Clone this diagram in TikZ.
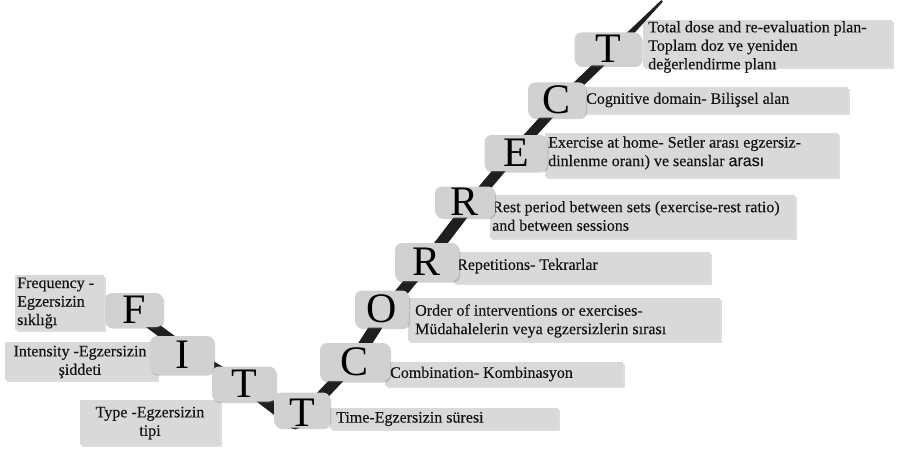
\documentclass[tikz,border=0pt]{standalone}
\usepackage{fontspec}
\setmainfont{Liberation Serif}
\newfontfamily\lblfont[FakeBold=0.3]{Liberation Serif}
\newfontfamily\arialfont[FakeBold=0.3]{Liberation Sans}
\usetikzlibrary{shadows,calc}
\begin{document}
\begin{tikzpicture}[x=1pt,y=-1pt,
  tbox/.style={fill=black!15, draw=none, inner sep=0pt, anchor=north west,
     drop shadow={shadow xshift=2pt, shadow yshift=-2pt, opacity=0.22, fill=black!60}},
  lbox/.style={fill=black!18, draw=none, rounded corners=7pt, inner sep=0pt,
     font=\fontsize{42}{42}\selectfont,
     drop shadow={shadow xshift=1pt, shadow yshift=-1.5pt, opacity=0.3, fill=black!60}},
  lbl/.style={font=\lblfont\fontsize{16}{18.5}\selectfont, inner sep=0pt, align=left, anchor=west, text=black!92},
  lblc/.style={lbl, align=center, anchor=center},
  band/.style={draw=black!88, line cap=round, line join=round},
]
\useasboundingbox (0,0) rectangle (897,452);

% text boxes
\node[tbox, minimum width=89pt, minimum height=55pt] (freqbox) at (15,275) {};
\node[tbox, minimum width=152pt, minimum height=38pt] (intbox) at (5,342) {};
\node[tbox, minimum width=140pt, minimum height=45pt] (typebox) at (80,400) {};
\node[tbox, minimum width=228pt, minimum height=21pt] (timebox) at (330,408) {};
\node[tbox, minimum width=238pt, minimum height=24pt] (combbox) at (385,362) {};
\node[tbox, minimum width=312pt, minimum height=43pt] (orderbox) at (408,298) {};
\node[tbox, minimum width=257pt, minimum height=31pt] (repbox) at (453,252) {};
\node[tbox, minimum width=305pt, minimum height=43pt] (restbox) at (490,195) {};
\node[tbox, minimum width=293pt, minimum height=44pt] (exbox) at (545,133) {};
\node[tbox, minimum width=271pt, minimum height=26pt] (cogbox) at (577,87) {};
\node[tbox, minimum width=249pt, minimum height=47pt] (totbox) at (643,20) {};

% labels
\node[lbl] (freq) at (17,303) {Frequency -\\Egzersizin\\sıklığı};
\node[lblc] (int) at (80,362) {Intensity -Egzersizin\\şiddeti};
\node[lblc] (type) at (150,423) {Type -Egzersizin\\tipi};
\node[lbl] (time) at (336,419) {Time-Egzersizin süresi};
\node[lbl] (comb) at (390,374) {Combination- Kombinasyon};
\node[lbl] (order) at (415,321) {Order of interventions or exercises-\\Müdahalelerin veya egzersizlerin sırası};
\node[lbl] (rep) at (457,266) {Repetitions- Tekrarlar};
\node[lbl] (rest) at (492,216) {Rest period between sets (exercise-rest ratio)\\and between sessions};
\node[lbl] (ex) at (548,153) {Exercise at home- Setler arası egzersiz-\\dinlenme oranı) ve seanslar {\arialfont arası}};
\node[lbl] (cog) at (586,100) {Cognitive domain- Bilişsel alan};
\node[lbl] (tot) at (648,47) {Total dose and re-evaluation plan-\\Toplam doz ve yeniden\\değerlendirme planı};

% path coordinates (hidden under the letter boxes)
\coordinate (jF) at (134,312);
\coordinate (jI) at (188,352);
\coordinate (jT1) at (244,385);
\coordinate (vbot) at (295,424);
\coordinate (jC1) at (352,364);
\coordinate (jO) at (386,311);
\coordinate (jR1) at (428,260);
\coordinate (jR2) at (470,205);
\coordinate (jE) at (514,153);
\coordinate (jC2) at (562,100);
\coordinate (jT3) at (614,50);
\coordinate (top) at (662,1);

\draw[band, line width=10pt] (jF) -- (jI) -- (jT1);
\draw[band, line width=11pt] (jT1) -- (vbot) -- (jC1);
\draw[band, line width=12pt] (jC1) -- (jO);
\draw[band, line width=11.5pt] (jO) -- (jR1);
\draw[band, line width=11pt] (jR1) -- (jR2);
\draw[band, line width=10.5pt] (jR2) -- (jE);
\draw[band, line width=10pt] (jE) -- (jC2);
\draw[band, line width=9pt] (jC2) -- (jT3);
\fill[black!88] ($(jT3)+(-2.6,-2.6)$) -- ($(top)+(-0.8,-0.8)$) -- ($(top)+(0.8,0.8)$) -- ($(jT3)+(2.6,2.6)$) -- cycle;

% letter boxes
\node[lbox, minimum width=58pt, minimum height=34pt] (F) at (134,310) {F};
\node[lbox, minimum width=64pt, minimum height=38pt] (I) at (182,355) {I};
\node[lbox, minimum width=64pt, minimum height=35pt] (T1) at (244,384) {T};
\node[lbox, minimum width=56pt, minimum height=35pt, text height=32pt, text depth=0pt] (T2) at (302,410) {T};
\node[lbox, minimum width=70pt, minimum height=38pt] (C1) at (355,362) {C};
\node[lbox, minimum width=54pt, minimum height=37pt] (O) at (382,309) {O};
\node[lbox, minimum width=64pt, minimum height=38pt] (R1) at (427,262) {R};
\node[lbox, minimum width=60pt, minimum height=31pt] (R2) at (465,202) {R};
\node[lbox, minimum width=63pt, minimum height=36pt] (E) at (516,153) {E};
\node[lbox, minimum width=58pt, minimum height=35pt] (C2) at (557,100) {C};
\node[lbox, minimum width=67pt, minimum height=33pt] (T3) at (608,49) {T};
\end{tikzpicture}
\end{document}
